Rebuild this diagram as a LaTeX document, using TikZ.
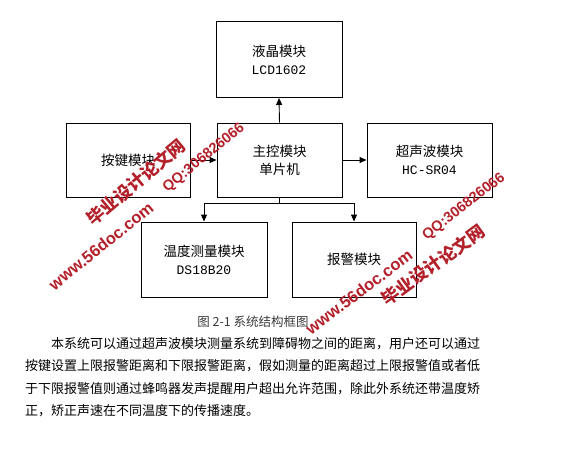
\documentclass[tikz,border=0pt]{standalone}
\usepackage{fontspec}
\setmainfont{Liberation Serif}
\newfontfamily\cjk{Noto Sans CJK SC}
\newfontfamily\monof{Liberation Mono}
\newfontfamily\wmlat{Liberation Sans}
\usetikzlibrary{arrows.meta}
\definecolor{wmred}{HTML}{B3202A}
\definecolor{capgray}{HTML}{3A3A3A}
\begin{document}
\begin{tikzpicture}[x=1pt,y=-1pt,
  box/.style={draw=black,line width=0.9pt,minimum width=125pt,minimum height=75pt,
    inner sep=0pt,align=center,font=\cjk\fontsize{13.5}{18}\selectfont},
  lat/.style={font=\monof\fontsize{13}{18}\selectfont},
  conn/.style={line width=0.9pt,-{Triangle[length=7pt,width=6pt]}},
  wm/.style={text=wmred,inner sep=0pt},
  para/.style={anchor=base west,inner sep=0pt,font=\cjk\fontsize{13}{13}\selectfont}]
\useasboundingbox (0,0) rectangle (576,474);
% boxes
\node[box,minimum width=126pt,minimum height=76pt] (lcd) at (279,59.5) {液晶模块\\{\monof\fontsize{13}{18}\selectfont LCD1602}};
\node[box,minimum width=124pt,minimum height=74pt] (key) at (128,160) {按键模块};
\node[box,minimum width=125pt,minimum height=74pt] (main) at (279.5,160) {主控模块\\单片机};
\node[box,minimum width=125pt,minimum height=74pt] (us) at (429.5,160) {超声波模块\\{\monof\fontsize{13}{18}\selectfont HC-SR04}};
\node[box,minimum width=126pt,minimum height=75pt] (temp) at (204,259.5) {温度测量模块\\{\monof\fontsize{13}{18}\selectfont DS18B20}};
\node[box,minimum width=124pt,minimum height=75pt] (alarm) at (354,259.5) {报警模块};
% connectors
\draw[conn] (main.north) -- (lcd.south);
\draw[conn] (main.east) -- (us.west);
\draw[conn] (key.east) -- (main.west);
\coordinate (j) at ([yshift=-6pt]main.south);
\draw[line width=0.9pt] (main.south) -- (j);
\draw[conn] (j) -| (temp.north);
\draw[conn] (j) -| (alarm.north);
% caption
\node[inner sep=0pt,text=capgray,font=\cjk\fontsize{12.5}{13}\selectfont] (cap) at (253,322) {图 2-1 系统结构框图};
% paragraph
\node[para] (p1) at (51,348) {本系统可以通过超声波模块测量系统到障碍物之间的距离，用户还可以通过};
\node[para] (p2) at (25,370.5) {按键设置上限报警距离和下限报警距离，假如测量的距离超过上限报警值或者低};
\node[para] (p3) at (25,393) {于下限报警值则通过蜂鸣器发声提醒用户超出允许范围，除此外系统还带温度矫};
\node[para] (p4) at (25,415.5) {正，矫正声速在不同温度下的传播速度。};
% watermarks
\node[wm,rotate=39,font=\wmlat\bfseries\fontsize{14.5}{14}\selectfont] (w1) at (204,158) {QQ:306826066};
\node[wm,rotate=40,font=\cjk\bfseries\fontsize{17.5}{17}\selectfont] (w2) at (136,182) {毕业设计论文网};
\node[wm,rotate=39,font=\wmlat\bfseries\fontsize{16.5}{16}\selectfont] (w3) at (101,246) {www.56doc.com};
\node[wm,rotate=38,font=\wmlat\bfseries\fontsize{14.5}{14}\selectfont] (w4) at (464,207) {QQ:306826066};
\node[wm,rotate=36,font=\cjk\bfseries\fontsize{17.5}{17}\selectfont] (w5) at (433,265) {毕业设计论文网};
\node[wm,rotate=37,font=\wmlat\bfseries\fontsize{16.5}{16}\selectfont] (w6) at (359,292) {www.56doc.com};
\end{tikzpicture}
\end{document}
